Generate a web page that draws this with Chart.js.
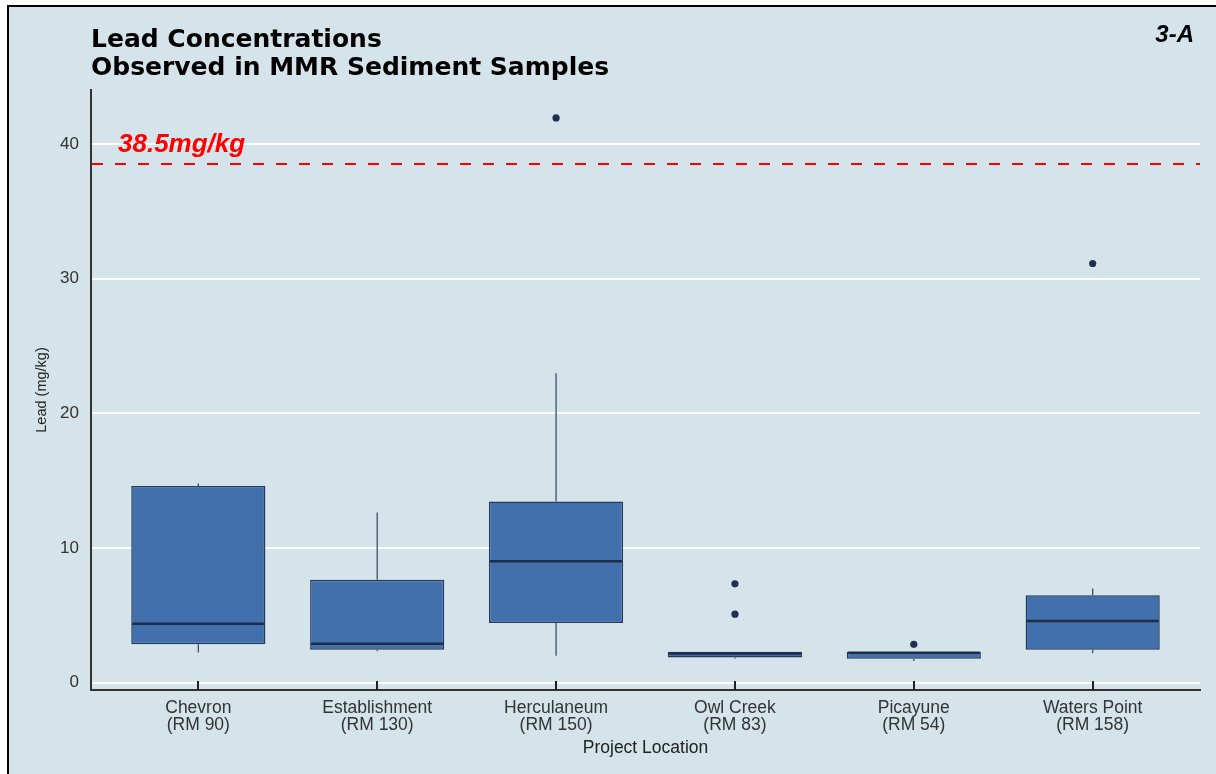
<!DOCTYPE html>
<html>
<head>
<meta charset="utf-8">
<title>Lead Concentrations Observed in MMR Sediment Samples</title>
<script src="https://cdn.jsdelivr.net/npm/chart.js@4/dist/chart.umd.min.js"></script>
<style>
  html, body { margin: 0; padding: 0; background: #ffffff; overflow: hidden; }
  #panel {
    position: absolute; left: 7px; top: 5px; width: 1240px; height: 800px;
    background: #d5e3ea; border-top: 2px solid #000; border-left: 2px solid #000;
  }
  #chart { position: absolute; left: 0; top: 0; }
</style>
</head>
<body>
<div id="panel"></div>
<canvas id="chart" width="1216" height="774"></canvas>
<script>
// Sampling sites along the river
const categories = ['Chevron', 'Establishment', 'Herculaneum', 'Owl Creek', 'Picayune', 'Waters Point'];
const riverMiles = ['(RM 90)', '(RM 130)', '(RM 150)', '(RM 83)', '(RM 54)', '(RM 158)'];

// Box-plot summary of lead (mg/kg) for each site
const whiskerLow  = [2.25, 2.33, 2.00, 1.78, 1.61, 2.18];
const quartile1   = [2.85, 2.45, 4.43, 1.88, 1.78, 2.45];
const medians     = [4.38, 2.89, 9.02, 2.17, 2.22, 4.58];
const quartile3   = [14.61, 7.64, 13.45, 2.30, 2.28, 6.50];
const whiskerHigh = [14.79, 12.64, 22.97, 2.30, 2.28, 7.00];
const outliers    = [[], [], [41.93], [7.34, 5.09], [2.85], [31.12]];

// Value axis ticks and the screening threshold
const yTicks = [0, 10, 20, 30, 40];
const leadThreshold = 38.5;

const BOX_WIDTH = 0.75;
const BASE_FONT = '"Liberation Sans", Arial, sans-serif';

const boxes = categories.map((c, i) => ({ x: i + 1, y: [quartile1[i], quartile3[i]] }));
const outlierPoints = outliers.flatMap((vals, i) => vals.map(v => ({ x: i + 1, y: v })));

// Whiskers, medians, axis ticks, threshold line and headings
const boxPlotParts = {
  id: 'boxPlotParts',
  beforeDatasetsDraw(chart) {
    const { ctx, scales: { x, y } } = chart;
    ctx.save();
    ctx.strokeStyle = '#2f4563';
    ctx.lineWidth = 1.2;
    categories.forEach((c, i) => {
      const px = x.getPixelForValue(i + 1);
      ctx.beginPath();
      ctx.moveTo(px, y.getPixelForValue(quartile3[i]));
      ctx.lineTo(px, y.getPixelForValue(whiskerHigh[i]));
      ctx.moveTo(px, y.getPixelForValue(quartile1[i]));
      ctx.lineTo(px, y.getPixelForValue(whiskerLow[i]));
      ctx.stroke();
    });
    ctx.restore();
  },
  afterDatasetsDraw(chart) {
    const { ctx, chartArea, scales: { x, y } } = chart;
    ctx.save();
    // medians
    ctx.strokeStyle = '#1d2e4a';
    ctx.lineWidth = 2.5;
    categories.forEach((c, i) => {
      const px = x.getPixelForValue(i + 1);
      const half = x.getPixelForValue(i + 1 + BOX_WIDTH / 2) - px;
      const py = y.getPixelForValue(medians[i]);
      ctx.beginPath();
      ctx.moveTo(px - half + 1, py);
      ctx.lineTo(px + half - 1, py);
      ctx.stroke();
    });
    // category tick marks on the x axis
    ctx.strokeStyle = '#222';
    ctx.lineWidth = 2;
    categories.forEach((c, i) => {
      const px = Math.round(x.getPixelForValue(i + 1));
      ctx.beginPath();
      ctx.moveTo(px, chartArea.bottom);
      ctx.lineTo(px, chartArea.bottom - 9);
      ctx.stroke();
    });
    // threshold line
    const ty = y.getPixelForValue(leadThreshold);
    ctx.strokeStyle = '#ff0000';
    ctx.lineWidth = 2;
    ctx.setLineDash([11, 12]);
    ctx.beginPath();
    ctx.moveTo(chartArea.left + 1, ty);
    ctx.lineTo(chartArea.right, ty);
    ctx.stroke();
    ctx.restore();
  },
  afterDraw(chart) {
    const { ctx, chartArea } = chart;
    ctx.save();
    ctx.textBaseline = 'alphabetic';
    ctx.fillStyle = '#000';
    ctx.textAlign = 'left';
    ctx.font = 'bold 25px "DejaVu Sans", sans-serif';
    ctx.fillText('Lead Concentrations', chartArea.left, 47);
    ctx.fillText('Observed in MMR Sediment Samples', chartArea.left, 74.5);

    ctx.textAlign = 'right';
    ctx.font = 'italic bold 24px ' + BASE_FONT;
    ctx.fillText('3-A', 1194, 42);

    ctx.textAlign = 'left';
    ctx.fillStyle = '#ff0000';
    ctx.font = 'italic bold 26px ' + BASE_FONT;
    ctx.fillText(leadThreshold + 'mg/kg', chartArea.left + 27, 152);
    ctx.restore();
  }
};

new Chart(document.getElementById('chart'), {
  type: 'bar',
  data: {
    datasets: [
      {
        type: 'bar',
        data: boxes,
        backgroundColor: '#4270ad',
        borderColor: '#24395c',
        borderWidth: 1.5,
        borderSkipped: false,
        barPercentage: 1,
        categoryPercentage: BOX_WIDTH,
        order: 2
      },
      {
        type: 'scatter',
        data: outlierPoints,
        backgroundColor: '#1f3050',
        borderWidth: 0,
        pointRadius: 3.6,
        order: 1
      }
    ]
  },
  options: {
    responsive: false,
    animation: false,
    events: [],
    layout: { padding: { top: 90, right: 16, bottom: 0, left: 0 } },
    plugins: { legend: { display: false }, tooltip: { enabled: false } },
    scales: {
      x: {
        type: 'linear',
        min: 0.4,
        max: 6.6,
        offset: false,
        afterBuildTicks(scale) { scale.ticks = categories.map((c, i) => ({ value: i + 1 })); },
        afterFit(scale) { scale.height = 84; },
        grid: { display: false, offset: false, drawTicks: false },
        border: { display: true, color: '#333', width: 2 },
        ticks: {
          autoSkip: false,
          maxRotation: 0,
          padding: 9,
          color: '#333',
          font: { family: BASE_FONT, size: 17.5, lineHeight: 1.0 },
          callback: (value, index) => [categories[index], riverMiles[index]]
        },
        title: {
          display: true,
          text: 'Project Location',
          color: '#222',
          font: { family: BASE_FONT, size: 17.5, lineHeight: 1.2 },
          padding: { top: 0, bottom: 15.5 }
        }
      },
      y: {
        type: 'linear',
        min: -0.54,
        max: 44,
        beginAtZero: false,
        afterBuildTicks(scale) { scale.ticks = yTicks.map(v => ({ value: v })); },
        afterFit(scale) { scale.width = 91; },
        grid: { color: '#ffffff', lineWidth: 2, drawTicks: false },
        border: { display: true, color: '#333', width: 2 },
        ticks: {
          padding: 12,
          color: '#333',
          font: { family: BASE_FONT, size: 17 }
        },
        title: {
          display: true,
          text: 'Lead (mg/kg)',
          color: '#222',
          font: { family: BASE_FONT, size: 14.5, lineHeight: 1.2 },
          padding: { top: 33, bottom: 0 }
        }
      }
    }
  },
  plugins: [boxPlotParts]
});
</script>
</body>
</html>
